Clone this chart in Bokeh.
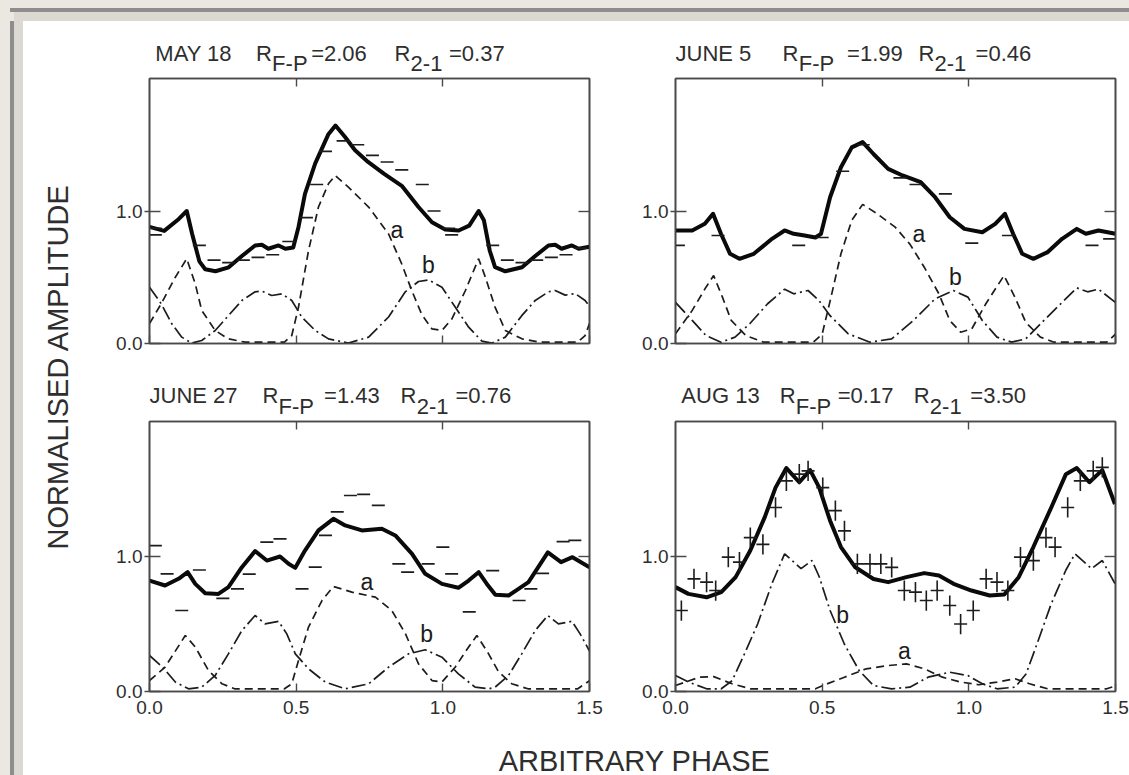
from math import pi
from bokeh.plotting import figure
from bokeh.layouts import row, column
from bokeh.models import Range1d, LinearAxis, FixedTicker, Label, Div, PrintfTickFormatter
from bokeh.embed import file_html
from bokeh.resources import INLINE

# ---------------- data ----------------
# MAY 18
may_total_x = [0.00,0.05,0.10,0.127,0.145,0.17,0.19,0.225,0.27,0.315,0.36,0.383,0.405,0.44,0.463,0.49,0.508,0.53,0.565,0.61,0.634,0.666,0.70,0.745,0.80,0.86,0.917,0.963,1.008,1.054,1.09,1.122,1.14,1.16,1.178,1.213,1.27,1.315,1.36,1.383,1.405,1.44,1.463,1.50]
may_total_y = [0.88,0.85,0.94,1.00,0.83,0.62,0.56,0.545,0.575,0.66,0.74,0.745,0.715,0.74,0.715,0.725,0.88,1.13,1.36,1.58,1.645,1.56,1.46,1.37,1.28,1.19,1.03,0.915,0.86,0.853,0.89,1.00,0.93,0.70,0.576,0.545,0.575,0.66,0.74,0.745,0.715,0.74,0.715,0.73]
may_a_x = [0.00,0.04,0.088,0.127,0.156,0.178,0.224,0.269,0.326,0.46,0.485,0.508,0.542,0.576,0.61,0.633,0.678,0.747,0.815,0.86,0.894,0.928,0.963,0.997,1.031,1.077,1.122,1.145,1.178,1.213,1.27,1.33,1.46,1.485,1.50]
may_a_y = [0.15,0.30,0.50,0.64,0.45,0.25,0.098,0.035,0.01,0.01,0.06,0.275,0.70,1.03,1.205,1.268,1.18,1.03,0.827,0.60,0.40,0.22,0.11,0.098,0.186,0.40,0.64,0.50,0.275,0.098,0.035,0.01,0.01,0.06,0.15]
may_b_x = [0.00,0.04,0.076,0.11,0.144,0.178,0.224,0.269,0.315,0.36,0.383,0.417,0.451,0.485,0.519,0.565,0.61,0.678,0.747,0.815,0.872,0.917,0.951,0.997,1.042,1.088,1.133,1.167,1.213,1.269,1.315,1.36,1.383,1.417,1.451,1.485,1.50]
may_b_y = [0.425,0.30,0.149,0.048,0.003,0.023,0.098,0.21,0.325,0.39,0.395,0.362,0.375,0.325,0.20,0.098,0.035,0.003,0.048,0.20,0.39,0.468,0.48,0.425,0.275,0.123,0.018,0.003,0.048,0.21,0.325,0.39,0.40,0.365,0.377,0.325,0.28]
may_pts_x = [0.02,0.02,0.17,0.22,0.27,0.32,0.37,0.42,0.475,0.535,0.57,0.60,0.66,0.71,0.76,0.81,0.86,0.93,0.97,1.02,1.03,1.17,1.22,1.27,1.32,1.37,1.42,1.47]
may_pts_y = [0.87,0.82,0.74,0.63,0.61,0.63,0.65,0.67,0.77,0.95,1.20,1.45,1.53,1.50,1.42,1.37,1.31,1.20,1.00,0.87,0.82,0.74,0.63,0.61,0.63,0.65,0.67,0.72]

# JUNE 5
jun5_total_x = [0.00,0.057,0.10,0.128,0.155,0.186,0.218,0.267,0.329,0.372,0.403,0.44,0.477,0.496,0.527,0.564,0.601,0.638,0.675,0.725,0.774,0.836,0.885,0.935,0.985,1.046,1.09,1.123,1.151,1.182,1.22,1.269,1.318,1.368,1.399,1.442,1.50]
jun5_total_y = [0.853,0.853,0.903,0.979,0.828,0.677,0.639,0.677,0.79,0.853,0.828,0.815,0.80,0.828,1.104,1.33,1.48,1.52,1.43,1.318,1.268,1.217,1.104,0.953,0.865,0.84,0.903,0.979,0.828,0.677,0.639,0.69,0.79,0.865,0.828,0.853,0.828]
jun5_a_x = [0.00,0.057,0.104,0.13,0.16,0.19,0.24,0.30,0.47,0.50,0.527,0.564,0.601,0.638,0.687,0.749,0.799,0.848,0.898,0.935,0.972,1.01,1.058,1.12,1.157,1.194,1.244,1.29,1.47,1.50]
jun5_a_y = [0.073,0.25,0.425,0.513,0.35,0.174,0.06,0.01,0.01,0.07,0.32,0.677,0.93,1.05,0.98,0.878,0.75,0.576,0.375,0.174,0.085,0.11,0.30,0.513,0.35,0.16,0.048,0.01,0.01,0.07]
jun5_b_x = [0.00,0.057,0.104,0.155,0.203,0.253,0.314,0.372,0.403,0.452,0.489,0.527,0.589,0.663,0.737,0.811,0.885,0.947,0.997,1.046,1.096,1.146,1.194,1.256,1.318,1.368,1.405,1.442,1.50]
jun5_b_y = [0.31,0.174,0.06,0.01,0.048,0.149,0.30,0.41,0.375,0.40,0.325,0.21,0.073,0.01,0.035,0.174,0.337,0.40,0.35,0.174,0.048,0.01,0.035,0.174,0.31,0.42,0.39,0.41,0.31]
jun5_pts_x = [0.01,0.145,0.42,0.50,0.57,0.64,0.765,0.82,0.92,1.01,1.135,1.42,1.48]
jun5_pts_y = [0.74,0.815,0.74,0.80,1.30,1.50,1.25,1.20,1.13,0.757,0.815,0.74,0.79]

# JUNE 27
jun27_total_x = [0.00,0.053,0.099,0.13,0.156,0.19,0.235,0.269,0.315,0.36,0.40,0.445,0.474,0.497,0.53,0.576,0.627,0.667,0.724,0.792,0.838,0.895,0.94,0.997,1.053,1.088,1.122,1.15,1.179,1.224,1.258,1.292,1.358,1.403,1.442,1.50]
jun27_total_y = [0.822,0.785,0.835,0.884,0.797,0.728,0.723,0.773,0.921,1.04,0.97,1.0,0.946,0.916,1.044,1.193,1.279,1.23,1.193,1.205,1.156,1.02,0.872,0.797,0.768,0.822,0.884,0.797,0.716,0.711,0.76,0.81,1.03,0.958,0.995,0.92]
jun27_a_x = [0.00,0.053,0.122,0.156,0.201,0.247,0.29,0.46,0.485,0.508,0.542,0.588,0.627,0.69,0.77,0.826,0.872,0.917,0.963,0.997,1.042,1.088,1.116,1.156,1.19,1.235,1.29,1.46,1.50]
jun27_a_y = [0.081,0.18,0.415,0.33,0.156,0.057,0.02,0.02,0.057,0.23,0.477,0.674,0.778,0.736,0.699,0.60,0.43,0.205,0.081,0.07,0.18,0.33,0.415,0.279,0.146,0.057,0.02,0.02,0.08]
jun27_b_x = [0.00,0.045,0.088,0.133,0.178,0.224,0.269,0.315,0.36,0.394,0.44,0.468,0.497,0.542,0.599,0.667,0.747,0.815,0.883,0.94,0.997,1.053,1.11,1.156,1.178,1.224,1.269,1.315,1.358,1.394,1.44,1.468,1.50]
jun27_b_y = [0.267,0.18,0.07,0.02,0.032,0.119,0.279,0.452,0.563,0.501,0.52,0.427,0.279,0.168,0.07,0.02,0.057,0.18,0.279,0.309,0.254,0.131,0.032,0.02,0.032,0.119,0.279,0.452,0.563,0.501,0.52,0.427,0.30]
jun27_pts_x = [0.02,0.06,0.11,0.17,0.25,0.30,0.34,0.40,0.445,0.52,0.565,0.60,0.64,0.685,0.73,0.78,0.85,0.88,0.95,1.00,1.03,1.09,1.17,1.26,1.30,1.34,1.41,1.45]
jun27_pts_y = [1.08,0.872,0.60,0.90,0.69,0.76,0.87,1.107,1.131,0.76,0.921,1.156,1.33,1.452,1.46,1.378,0.946,0.884,0.946,1.07,0.872,0.59,0.896,0.674,0.76,0.875,1.11,1.12]

# AUG 13
aug_total_x = [0.00,0.044,0.106,0.156,0.205,0.255,0.304,0.341,0.378,0.422,0.459,0.49,0.527,0.564,0.613,0.675,0.725,0.787,0.848,0.898,0.948,1.009,1.071,1.121,1.17,1.22,1.281,1.331,1.368,1.411,1.455,1.498]
aug_total_y = [0.773,0.723,0.698,0.736,0.847,1.044,1.29,1.51,1.655,1.55,1.64,1.51,1.265,1.07,0.92,0.833,0.81,0.847,0.877,0.86,0.798,0.748,0.711,0.718,0.847,1.07,1.363,1.61,1.655,1.55,1.64,1.388]
aug_a_x = [0.00,0.081,0.13,0.193,0.255,0.35,0.477,0.502,0.576,0.65,0.725,0.787,0.848,0.91,0.972,1.034,1.096,1.158,1.207,1.269,1.35,1.47,1.498]
aug_a_y = [0.044,0.106,0.11,0.057,0.02,0.02,0.02,0.044,0.106,0.168,0.192,0.205,0.168,0.106,0.07,0.05,0.07,0.094,0.057,0.02,0.02,0.02,0.04]
aug_b_x = [0.00,0.044,0.106,0.156,0.193,0.23,0.28,0.329,0.372,0.428,0.465,0.49,0.527,0.576,0.626,0.675,0.737,0.799,0.861,0.935,0.997,1.046,1.096,1.158,1.195,1.232,1.281,1.331,1.362,1.418,1.455,1.498]
aug_b_y = [0.118,0.07,0.02,0.02,0.08,0.254,0.50,0.80,1.02,0.91,0.97,0.85,0.60,0.35,0.155,0.044,0.02,0.032,0.106,0.143,0.118,0.057,0.02,0.032,0.13,0.35,0.65,0.90,1.02,0.91,0.97,0.80]
aug_pts_x = [0.02,0.063,0.106,0.137,0.18,0.218,0.255,0.298,0.341,0.378,0.422,0.452,0.502,0.545,0.576,0.62,0.663,0.70,0.737,0.78,0.818,0.855,0.892,0.935,0.972,1.015,1.059,1.096,1.133,1.176,1.22,1.263,1.294,1.337,1.38,1.424,1.455]
aug_pts_y = [0.60,0.835,0.81,0.748,0.995,0.958,1.14,1.09,1.363,1.56,1.61,1.635,1.51,1.34,1.19,0.945,0.945,0.945,0.92,0.748,0.736,0.674,0.748,0.637,0.50,0.60,0.835,0.81,0.748,0.995,0.97,1.14,1.07,1.363,1.56,1.635,1.66]
aug_err = 0.075

x_tick_values = [0.0, 0.5, 1.0, 1.5]
y_tick_values = [0.0, 1.0]

# ---------------- style ----------------
FONT = "Liberation Sans"
INK = "#1c1c1c"
AXC = "#4a4a4a"
TXT = "#2e2e2e"


def style_axis(ax, tick_in, tick_out, labels, standoff=0):
    ax.major_tick_in = tick_in
    ax.major_tick_out = tick_out
    ax.minor_tick_line_color = None
    ax.axis_line_color = AXC
    ax.axis_line_width = 1.6
    ax.major_tick_line_color = AXC
    ax.major_tick_line_width = 1.4
    ax.major_label_text_font = FONT
    if labels:
        ax.formatter = PrintfTickFormatter(format="%.1f")
        ax.major_label_text_font_size = "19px"
        ax.major_label_text_color = TXT
        ax.major_label_standoff = standoff
    else:
        ax.major_label_text_font_size = "1px"
        ax.major_label_text_color = None
        ax.major_label_standoff = 0


def make_title(title_parts, tx, y_main, y_sub, width, height, mleft, mright):
    t = figure(width=width, height=height, x_range=Range1d(0, 1.5), y_range=Range1d(0, height),
               x_axis_type=None, y_axis_type=None, outline_line_color=None, title=None,
               min_border_left=mleft, min_border_right=mright, min_border_top=0, min_border_bottom=0,
               output_backend="svg", toolbar_location=None)
    t.grid.visible = False
    for (txt, sub), x in zip(title_parts, tx):
        t.add_layout(Label(x=x, y=y_sub if sub else y_main, text=txt, text_font=FONT,
                           text_font_size="22px", text_color=TXT, text_align="left",
                           text_baseline="middle"))
    return t


def make_panel(total, comp_a, comp_b, pts, lab_a, lab_b, width, height,
               mleft, mright, mtop, mbottom, xlabels, err=None):
    p = figure(width=width, height=height, x_range=Range1d(0, 1.5), y_range=Range1d(0, 2.0),
               output_backend="svg", toolbar_location=None,
               min_border_left=mleft, min_border_right=mright,
               min_border_top=mtop, min_border_bottom=mbottom)
    p.grid.visible = False
    p.background_fill_color = "white"
    p.border_fill_color = "white"
    p.outline_line_color = AXC
    p.outline_line_width = 1.6

    ya = p.yaxis[0]
    ya.ticker = FixedTicker(ticks=y_tick_values)
    style_axis(ya, 11, 5, True, standoff=2)

    xa = p.xaxis[0]
    xa.ticker = FixedTicker(ticks=x_tick_values)
    style_axis(xa, 8, 0, xlabels, standoff=9)

    top = LinearAxis(ticker=FixedTicker(ticks=[0.5, 1.0]))
    style_axis(top, 8, 0, False)
    right = LinearAxis(ticker=FixedTicker(ticks=[1.0]))
    style_axis(right, 11, 0, False)
    p.add_layout(top, "above")
    p.add_layout(right, "right")

    p.line(comp_a[0], comp_a[1], line_color=INK, line_width=1.7, line_dash="8 5")
    p.line(comp_b[0], comp_b[1], line_color=INK, line_width=1.7, line_dash="14 4 2 4")
    p.line(total[0], total[1], line_color="#0a0a0a", line_width=4, line_join="round")

    if err is not None:
        p.segment(x0=pts[0], y0=[v - err for v in pts[1]], x1=pts[0], y1=[v + err for v in pts[1]],
                  line_color=INK, line_width=1.6)
    p.scatter(pts[0], pts[1], marker="dash", size=13, line_color=INK, line_width=1.7)

    for txt, (lx, ly) in (("a", lab_a), ("b", lab_b)):
        p.add_layout(Label(x=lx, y=ly, text=txt, text_font=FONT, text_font_size="23px",
                           text_color=INK, text_align="center", text_baseline="middle"))
    return p


def parts(date, rfp, r21):
    return [(date, False), ("R", False), ("F-P", True), ("=" + rfp, False),
            ("R", False), ("2-1", True), ("=" + r21, False)]


# top row: title strip 55 px, panel 284 px ; bottom row: title strip 59 px, panel 306 px
t_may = make_title(parts("MAY 18", "2.06", "0.37"), [0.02, 0.363, 0.418, 0.551, 0.835, 0.890, 1.021],
                   23, 13, 515, 55, 49, 26)
t_jun5 = make_title(parts("JUNE 5", "1.99", "0.46"), [0.0, 0.365, 0.420, 0.585, 0.828, 0.883, 1.023],
                    23, 13, 514, 55, 60, 14)
t_jun27 = make_title(parts("JUNE 27", "1.43", "0.76"), [0.0, 0.385, 0.440, 0.595, 0.856, 0.911, 1.043],
                     24, 13, 515, 59, 49, 26)
t_aug = make_title(parts("AUG 13", "0.17", "3.50"), [0.02, 0.355, 0.410, 0.553, 0.812, 0.867, 1.005],
                   24, 13, 514, 59, 60, 14)

p_may = make_panel((may_total_x, may_total_y), (may_a_x, may_a_y), (may_b_x, may_b_y),
                   (may_pts_x, may_pts_y), (0.843, 0.853), (0.951, 0.59),
                   515, 284, 49, 26, 2, 17, False)
p_jun5 = make_panel((jun5_total_x, jun5_total_y), (jun5_a_x, jun5_a_y), (jun5_b_x, jun5_b_y),
                    (jun5_pts_x, jun5_pts_y), (0.83, 0.828), (0.954, 0.50),
                    514, 284, 60, 14, 2, 17, False)
p_jun27 = make_panel((jun27_total_x, jun27_total_y), (jun27_a_x, jun27_a_y), (jun27_b_x, jun27_b_y),
                     (jun27_pts_x, jun27_pts_y), (0.741, 0.81), (0.945, 0.427),
                     515, 306, 49, 26, 2, 34, True)
p_aug = make_panel((aug_total_x, aug_total_y), (aug_a_x, aug_a_y), (aug_b_x, aug_b_y),
                   (aug_pts_x, aug_pts_y), (0.78, 0.30), (0.57, 0.563),
                   514, 306, 60, 14, 2, 34, True, err=aug_err)

ylab = figure(width=77, height=754, x_range=Range1d(0, 1), y_range=Range1d(0, 1),
              x_axis_type=None, y_axis_type=None, min_border=0, outline_line_color=None,
              output_backend="svg", toolbar_location=None)
ylab.grid.visible = False
ylab.add_layout(Label(x=0.448, y=0.5424, text="NORMALISED AMPLITUDE", angle=pi / 2,
                      text_font=FONT, text_font_size="29px", text_color=TXT,
                      text_align="center", text_baseline="middle"))

xlab = figure(width=1029, height=50, x_range=Range1d(0, 1), y_range=Range1d(0, 1),
              x_axis_type=None, y_axis_type=None, min_border=0, outline_line_color=None,
              output_backend="svg", toolbar_location=None)
xlab.grid.visible = False
xlab.add_layout(Label(x=0.519, y=0.30, text="ARBITRARY PHASE",
                      text_font=FONT, text_font_size="29px", text_color=TXT,
                      text_align="center", text_baseline="middle"))

top_div = Div(width=1129, height=21, margin=0, text=(
    '<div style="position:relative;width:1129px;height:21px;background:#ebe8e2;">'
    '<div style="position:absolute;left:10px;top:8px;width:1119px;height:4px;background:#8e8e8e;"></div>'
    '<div style="position:absolute;left:14px;top:12px;width:1115px;height:9px;background:#dcd9d2;"></div>'
    '</div>'))
left_div = Div(width=23, height=754, margin=0, text=(
    '<div style="position:relative;width:23px;height:754px;background:#ebe8e2;">'
    '<div style="position:absolute;left:10px;top:0;width:4px;height:754px;background:#8e8e8e;"></div>'
    '<div style="position:absolute;left:14px;top:0;width:9px;height:754px;background:#dcd9d2;"></div>'
    '</div>'))

panels = column(row(column(t_may, p_may), column(t_jun5, p_jun5)),
                row(column(t_jun27, p_jun27), column(t_aug, p_aug)),
                xlab)
layout = column(top_div, row(left_div, ylab, panels))

open("out.html", "w").write(file_html(layout, INLINE))
